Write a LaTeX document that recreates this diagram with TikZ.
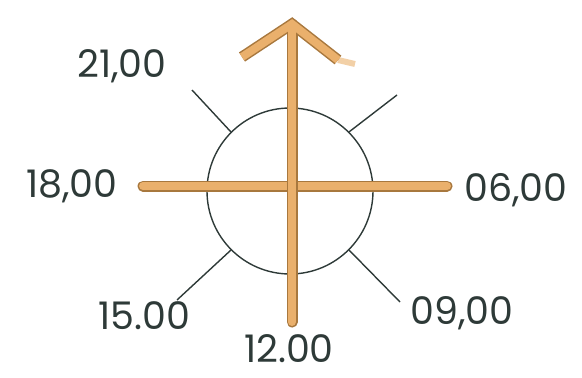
\documentclass[tikz,border=0pt]{standalone}
\usepackage{fontspec}
\setmainfont{Poppins}
\definecolor{ink}{HTML}{2E3A38}
\definecolor{tan}{HTML}{EAB06C}
\definecolor{tanedge}{HTML}{A8783E}
\begin{document}
\begin{tikzpicture}[x=1pt,y=-1pt,
  lbl/.style={text=ink,font=\fontsize{38}{40}\selectfont,inner sep=0pt},
  tick/.style={draw=ink,line width=1.4pt},
  barout/.style={draw=tanedge,line width=11pt},
  barin/.style={draw=tan,line width=8pt}]
\useasboundingbox (0,0) rectangle (582,378);
% circle
\node[draw=ink,line width=1.4pt,circle,minimum size=166pt,inner sep=0pt] (c) at (290,191) {};
% ticks
\coordinate (t21) at (192,90);
\coordinate (t03) at (397,95);
\coordinate (t09) at (400,302);
\coordinate (t15) at (177,300);
\draw[tick] (c.135) -- (t21);
\draw[tick] (c.45) -- (t03);
\draw[tick] (c.-45) -- (t09);
\draw[tick] (c.-135) -- (t15);
% horizontal bar
\coordinate (hl) at (143,186);
\coordinate (hr) at (447,186);
\draw[barout,line cap=round] (hl) -- (hr);
\draw[barin,line cap=round] (hl) -- (hr);
% vertical arrow
\coordinate (vt) at (292,24);
\coordinate (vb) at (292,322);
\coordinate (al) at (242,57);
\coordinate (ar) at (338,60);
\coordinate (ax) at (355,64);
\draw[draw=tan,line width=6pt,opacity=0.6] (ar) -- (ax);
\draw[barout,line cap=round] (vb) -- (vt);
\draw[barout,line join=miter] (al) -- (vt) -- (ar);
\draw[barin,line cap=round] (vb) -- (vt);
\draw[barin,line join=miter] (al) -- (vt) -- (ar);
% labels
\node[lbl] (l21) at (122,66) {21,00};
\node[lbl] (l18) at (72,186) {18,00};
\node[lbl] (l06) at (516,190) {06,00};
\node[lbl] (l09) at (462,313) {09,00};
\node[lbl] (l15) at (144,316) {15.00};
\node[lbl] (l12) at (289,349) {12.00};
\end{tikzpicture}
\end{document}
